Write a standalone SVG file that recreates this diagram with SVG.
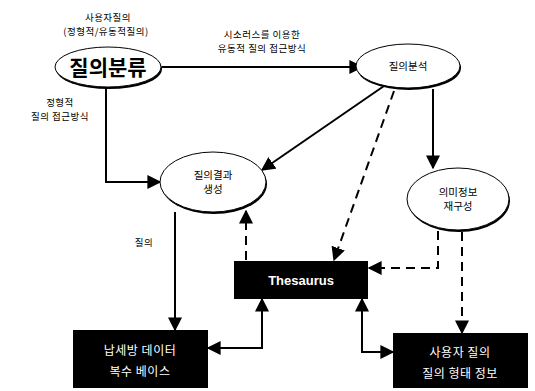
<svg xmlns="http://www.w3.org/2000/svg" width="535" height="391" viewBox="0 0 535 391">
  <defs>
    <marker id="arrBig" viewBox="0 0 10 10" refX="9" refY="5" markerWidth="14" markerHeight="14" markerUnits="userSpaceOnUse" orient="auto-start-reverse">
      <path d="M0,0 L10,5 L0,10 z" fill="#000"/>
    </marker>
  </defs>
  <style>
    .kr { font-family: "Noto Sans CJK KR", "Noto Sans", sans-serif; fill: #000; }
    .lbl { font-size: 9.5px; text-anchor: middle; letter-spacing: 0.5px; }
    .node-t { font-size: 10.5px; text-anchor: middle; }
    .box-t { font-size: 12px; text-anchor: middle; fill: #fff; letter-spacing: 0.5px; }
    .shadow { fill: #000; }
    .ell { fill: #fff; stroke: #000; stroke-width: 1; }
    .box { fill: #000; }
    .solid { fill: none; stroke: #000; stroke-width: 2; }
    .dash { fill: none; stroke: #000; stroke-width: 2; stroke-dasharray: 9 6; }
  </style>
  <rect width="535" height="391" fill="#fff"/>

  <!-- connectors -->
  <g id="connectors">
    <path class="solid" d="M162,67 L362,67" marker-end="url(#arrBig)"/>
    <path class="solid" d="M106,88 L106,182 L160,182" marker-end="url(#arrBig)"/>
    <path class="solid" d="M384,86 L262,170" marker-end="url(#arrBig)"/>
    <path class="dash" d="M394,91 L334,260" marker-end="url(#arrBig)"/>
    <path class="solid" d="M433,89 L433,168" marker-end="url(#arrBig)"/>
    <path class="dash" d="M246,260 L246,211" marker-end="url(#arrBig)"/>
    <path class="solid" d="M175,212 L175,330" marker-end="url(#arrBig)"/>
    <path class="solid" d="M262,299 L262,348 L208,348" marker-start="url(#arrBig)" marker-end="url(#arrBig)"/>
    <path class="solid" d="M362,299 L362,352 L393,352" marker-start="url(#arrBig)" marker-end="url(#arrBig)"/>
    <path class="dash" d="M438,231 L438,268 L369,268" marker-end="url(#arrBig)"/>
    <path class="dash" d="M462,232 L462,333" marker-end="url(#arrBig)"/>
  </g>

  <!-- connector labels -->
  <g id="labels" class="kr lbl">
    <text x="108" y="21">사용자질의</text>
    <text x="106" y="35">(정형적/유동적질의)</text>
    <text x="262" y="38">시소러스를 이용한</text>
    <text x="262" y="52">유동적 질의 접근방식</text>
    <text x="60" y="106">정형적</text>
    <text x="60" y="120">질의 접근방식</text>
    <text x="144" y="246">질의</text>
  </g>

  <!-- nodes -->
  <g id="node-classify">
    <ellipse class="shadow" cx="109" cy="69" rx="53" ry="20"/>
    <ellipse class="ell" cx="108" cy="67" rx="53" ry="20"/>
    <text class="kr" x="108" y="75" font-size="21" font-weight="bold" text-anchor="middle">질의분류</text>
  </g>
  <g id="node-analyze">
    <ellipse class="shadow" cx="409" cy="68" rx="52" ry="22"/>
    <ellipse class="ell" cx="408" cy="66" rx="52" ry="22"/>
    <text class="kr node-t" x="408" y="70">질의분석</text>
  </g>
  <g id="node-result">
    <ellipse class="shadow" cx="214" cy="184" rx="53" ry="30"/>
    <ellipse class="ell" cx="213" cy="182" rx="53" ry="30"/>
    <text class="kr node-t" x="213" y="179">질의결과</text>
    <text class="kr node-t" x="213" y="193">생성</text>
  </g>
  <g id="node-rebuild">
    <ellipse class="shadow" cx="459" cy="201" rx="51" ry="31"/>
    <ellipse class="ell" cx="458" cy="199" rx="51" ry="31"/>
    <text class="kr node-t" x="458" y="196">의미정보</text>
    <text class="kr node-t" x="458" y="210">재구성</text>
  </g>
  <g id="node-thesaurus">
    <rect class="box" x="234" y="261" width="134" height="38"/>
    <text x="301" y="285" font-family="Liberation Sans, Arial, sans-serif" font-size="13" font-weight="bold" fill="#fff" text-anchor="middle">Thesaurus</text>
  </g>
  <g id="node-db">
    <rect class="box" x="73" y="330" width="135" height="58"/>
    <text class="kr box-t" x="140" y="355">납세방 데이터</text>
    <text class="kr box-t" x="140" y="376">복수 베이스</text>
  </g>
  <g id="node-userinfo">
    <rect class="box" x="393" y="333" width="135" height="55"/>
    <text class="kr box-t" x="460" y="357">사용자 질의</text>
    <text class="kr box-t" x="460" y="378">질의 형태 정보</text>
  </g>
</svg>
